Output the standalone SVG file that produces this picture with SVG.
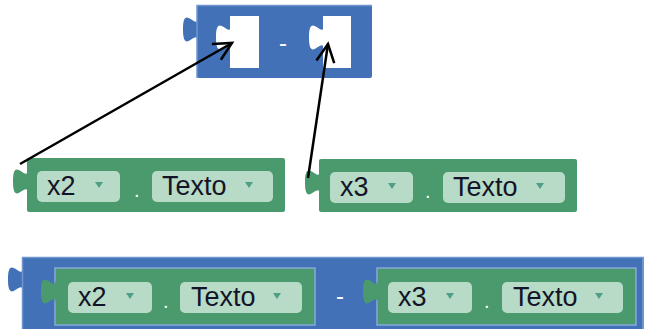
<svg xmlns="http://www.w3.org/2000/svg" width="652" height="329" viewBox="0 0 652 329">
  <defs>
    <style>
      .blue{fill:#4271b7;}
      .blueedge{fill:none;stroke:#6f95d0;stroke-width:1.5;}
      .green{fill:#4a9a6d;}
      .inset{fill:none;stroke:#86a9dc;stroke-width:1.5;}
      .field{fill:#b7dbc7;}
      .tri{fill:#4f9e85;}
      .lbl{font-family:"Liberation Sans",Arial,sans-serif;font-size:27px;fill:#141428;}
      .dot{font-family:"Liberation Sans",Arial,sans-serif;font-size:20px;fill:#ffffff;}
      .minus{font-family:"Liberation Sans",Arial,sans-serif;font-size:24px;fill:#ffffff;}
      .hole{fill:#ffffff;}
      .arrow{stroke:#000;stroke-width:2.5;fill:none;marker-end:url(#ah);}
    </style>
    <path id="tab" d="M0,0 c 0,18 -15,-14.4 -15,13.5 s 15,-4.5 15,13.5 Z"/>
    <marker id="ah" markerUnits="userSpaceOnUse" viewBox="-22 -12 25 24" refX="0" refY="0" markerWidth="25" markerHeight="24" orient="auto">
      <path d="M-18,-9 L0,0 L-18,9" fill="none" stroke="#000" stroke-width="2.5"/>
    </marker>
  </defs>

  <!-- Top blue subtraction block -->
  <g id="minus-block">
    <rect class="blue" x="197" y="5" width="175" height="73" rx="2"/>
    <use href="#tab" x="198" y="16" class="blue"/>
    <path class="blueedge" d="M197,78 V5.5 H372"/>
    <rect class="hole" x="230" y="16" width="29" height="52"/>
    <use href="#tab" x="231" y="24" class="hole"/>
    <text class="minus" x="283" y="51" text-anchor="middle">-</text>
    <rect class="hole" x="323" y="16" width="28" height="52"/>
    <use href="#tab" x="324" y="24" class="hole"/>
  </g>

  <!-- Green block x2.Texto -->
  <g id="x2-texto">
    <rect class="green" x="27" y="158" width="258" height="54" rx="2"/>
    <use href="#tab" x="28" y="168" class="green"/>
    <rect class="field" x="37" y="171" width="83" height="31" rx="5"/>
    <text class="lbl" x="47" y="195">x2</text>
    <polygon class="tri" points="95,182 103,182 99,188"/>
    <text class="dot" x="134" y="197">.</text>
    <rect class="field" x="152" y="171" width="121" height="31" rx="5"/>
    <text class="lbl" x="162" y="195">Texto</text>
    <polygon class="tri" points="245,182 253,182 249,188"/>
  </g>

  <!-- Green block x3.Texto -->
  <g id="x3-texto">
    <rect class="green" x="319" y="159" width="258" height="53" rx="2"/>
    <use href="#tab" x="320" y="169" class="green"/>
    <rect class="field" x="330" y="172" width="83" height="31" rx="5"/>
    <text class="lbl" x="340" y="196">x3</text>
    <polygon class="tri" points="388,183 396,183 392,189"/>
    <text class="dot" x="425" y="198">.</text>
    <rect class="field" x="443" y="172" width="122" height="31" rx="5"/>
    <text class="lbl" x="453" y="196">Texto</text>
    <polygon class="tri" points="536,183 544,183 540,189"/>
  </g>

  <!-- Bottom combined block -->
  <g id="combined">
    <rect class="blue" x="22" y="257" width="622" height="80" rx="2"/>
    <use href="#tab" x="23" y="266" class="blue"/>
    <path class="blueedge" d="M22.5,329 V257.5 H644"/>
    <line x1="643" y1="258" x2="643" y2="329" stroke="#6f95d0" stroke-width="2"/>

    <rect class="green" x="55" y="268" width="260" height="57"/>
    <rect class="inset" x="55" y="268" width="260" height="57"/>
    <use href="#tab" x="56" y="278" class="green"/>
    <rect class="field" x="68" y="282" width="84" height="31" rx="5"/>
    <text class="lbl" x="78" y="306">x2</text>
    <polygon class="tri" points="126,293 134,293 130,299"/>
    <text class="dot" x="163" y="308">.</text>
    <rect class="field" x="180" y="282" width="122" height="31" rx="5"/>
    <text class="lbl" x="191" y="306">Texto</text>
    <polygon class="tri" points="273,293 281,293 277,299"/>

    <text class="minus" x="340" y="304" text-anchor="middle">-</text>

    <rect class="green" x="377" y="268" width="259" height="57"/>
    <rect class="inset" x="377" y="268" width="259" height="57"/>
    <use href="#tab" x="378" y="278" class="green"/>
    <rect class="field" x="388" y="282" width="84" height="31" rx="5"/>
    <text class="lbl" x="398" y="306">x3</text>
    <polygon class="tri" points="446,293 454,293 450,299"/>
    <text class="dot" x="484" y="308">.</text>
    <rect class="field" x="502" y="282" width="121" height="31" rx="5"/>
    <text class="lbl" x="513" y="306">Texto</text>
    <polygon class="tri" points="595,293 603,293 599,299"/>
  </g>

  <!-- Connectors -->
  <g id="connectors">
    <line class="arrow" x1="20" y1="164" x2="232" y2="43"/>
    <line class="arrow" x1="308" y1="178" x2="328" y2="44"/>
  </g>
</svg>
